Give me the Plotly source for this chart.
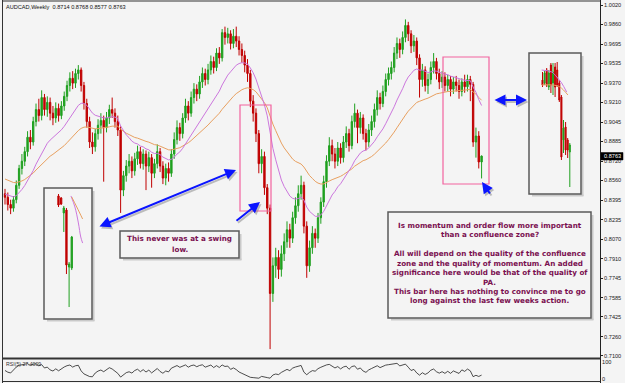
import plotly.graph_objects as go

W, H = 625, 383

# ---------------- data ----------------
header_text = "AUDCAD,Weekly  0.8714 0.8768 0.8577 0.8763"
rsi_text = "RSI(5) 27.4009"
last_price_text = "0.8763"
last_price = 0.8763

first_open = 0.845
closes = [0.842, 0.836, 0.833, 0.840, 0.852, 0.866, 0.872, 0.880, 0.892, 0.888,
          0.905, 0.915, 0.910, 0.925, 0.915, 0.921, 0.912, 0.908, 0.916, 0.910,
          0.918, 0.926, 0.935, 0.941, 0.937, 0.945, 0.948, 0.935, 0.920, 0.905,
          0.888, 0.884, 0.895, 0.902, 0.906, 0.900, 0.908, 0.915, 0.912, 0.905,
          0.898, 0.848, 0.860, 0.868, 0.872, 0.864, 0.874, 0.880, 0.870, 0.878,
          0.868, 0.875, 0.862, 0.870, 0.880, 0.868, 0.858, 0.866, 0.862, 0.878,
          0.890, 0.900, 0.895, 0.908, 0.918, 0.912, 0.925, 0.932, 0.928, 0.938,
          0.945, 0.940, 0.948, 0.955, 0.950, 0.962, 0.958, 0.979, 0.975, 0.978,
          0.970, 0.976, 0.972, 0.965, 0.960, 0.952, 0.945, 0.922, 0.912, 0.895,
          0.870, 0.876, 0.850, 0.833, 0.762, 0.785, 0.792, 0.782, 0.795, 0.805,
          0.815, 0.808, 0.825, 0.835, 0.845, 0.852, 0.818, 0.785, 0.800, 0.812,
          0.808, 0.825, 0.838, 0.855, 0.872, 0.885, 0.878, 0.872, 0.883, 0.875,
          0.888, 0.895, 0.885, 0.905, 0.912, 0.900, 0.908, 0.895, 0.888, 0.898,
          0.905, 0.915, 0.925, 0.920, 0.930, 0.940, 0.945, 0.950, 0.962, 0.970,
          0.965, 0.975, 0.985, 0.978, 0.968, 0.972, 0.958, 0.940, 0.948, 0.935,
          0.940, 0.950, 0.955, 0.945, 0.938, 0.942, 0.935, 0.940, 0.932, 0.938,
          0.935, 0.930, 0.938, 0.934, 0.940, 0.936, 0.888, 0.893, 0.8714, 0.8763]
highs = [0.849, 0.846, 0.840, 0.843, 0.856, 0.869, 0.878, 0.884, 0.897, 0.898,
         0.909, 0.920, 0.924, 0.931, 0.928, 0.926, 0.925, 0.918, 0.921, 0.920,
         0.922, 0.930, 0.939, 0.946, 0.947, 0.949, 0.952, 0.950, 0.938, 0.924,
         0.909, 0.896, 0.899, 0.907, 0.912, 0.910, 0.913, 0.919, 0.925, 0.916,
         0.910, 0.901, 0.864, 0.873, 0.878, 0.876, 0.879, 0.885, 0.884, 0.882,
         0.881, 0.880, 0.878, 0.874, 0.886, 0.883, 0.872, 0.870, 0.871, 0.882,
         0.896, 0.906, 0.904, 0.912, 0.924, 0.922, 0.930, 0.937, 0.936, 0.943,
         0.950, 0.949, 0.953, 0.960, 0.959, 0.966, 0.967, 0.982, 0.984, 0.983,
         0.981, 0.982, 0.984, 0.976, 0.970, 0.964, 0.957, 0.948, 0.927, 0.916,
         0.898, 0.882, 0.880, 0.853, 0.836, 0.792, 0.800, 0.798, 0.802, 0.812,
         0.822, 0.820, 0.830, 0.842, 0.852, 0.860, 0.855, 0.822, 0.806, 0.818,
         0.816, 0.829, 0.842, 0.860, 0.877, 0.892, 0.890, 0.883, 0.888, 0.887,
         0.893, 0.901, 0.899, 0.910, 0.920, 0.915, 0.913, 0.911, 0.899, 0.903,
         0.910, 0.920, 0.931, 0.929, 0.935, 0.945, 0.950, 0.955, 0.967, 0.975,
         0.974, 0.980, 0.990, 0.988, 0.981, 0.977, 0.975, 0.961, 0.953, 0.951,
         0.945, 0.955, 0.962, 0.958, 0.949, 0.947, 0.946, 0.944, 0.943, 0.942,
         0.943, 0.940, 0.941, 0.944, 0.944, 0.943, 0.938, 0.900, 0.897, 0.8768]
lows = [0.836, 0.831, 0.828, 0.830, 0.837, 0.849, 0.861, 0.868, 0.876, 0.882,
        0.885, 0.901, 0.905, 0.906, 0.910, 0.909, 0.906, 0.902, 0.904, 0.905,
        0.907, 0.914, 0.922, 0.930, 0.932, 0.933, 0.940, 0.930, 0.915, 0.900,
        0.883, 0.878, 0.880, 0.890, 0.895, 0.855, 0.896, 0.903, 0.908, 0.900,
        0.893, 0.829, 0.843, 0.855, 0.862, 0.858, 0.860, 0.869, 0.866, 0.865,
        0.848, 0.863, 0.850, 0.858, 0.866, 0.863, 0.853, 0.852, 0.855, 0.859,
        0.874, 0.886, 0.889, 0.891, 0.904, 0.906, 0.909, 0.920, 0.922, 0.924,
        0.933, 0.935, 0.936, 0.944, 0.945, 0.947, 0.953, 0.955, 0.969, 0.970,
        0.965, 0.966, 0.967, 0.960, 0.954, 0.946, 0.938, 0.917, 0.905, 0.888,
        0.862, 0.862, 0.844, 0.828, 0.7157, 0.755, 0.775, 0.774, 0.776, 0.789,
        0.800, 0.800, 0.804, 0.820, 0.830, 0.840, 0.812, 0.775, 0.780, 0.795,
        0.800, 0.804, 0.820, 0.834, 0.850, 0.868, 0.872, 0.866, 0.868, 0.870,
        0.871, 0.883, 0.880, 0.882, 0.900, 0.887, 0.895, 0.890, 0.881, 0.884,
        0.893, 0.900, 0.910, 0.915, 0.917, 0.926, 0.935, 0.940, 0.946, 0.957,
        0.958, 0.961, 0.971, 0.972, 0.962, 0.963, 0.952, 0.925, 0.934, 0.930,
        0.928, 0.936, 0.945, 0.940, 0.932, 0.933, 0.930, 0.930, 0.926, 0.928,
        0.930, 0.924, 0.926, 0.929, 0.930, 0.922, 0.884, 0.875, 0.866, 0.8577]
opens = [first_open] + closes[:-1]
bars = list(range(len(closes)))

fast_period, fast_seed = 18, 0.845
slow_period, slow_seed = 40, 0.858
rsi_period, rsi_seed_gain, rsi_seed_loss = 4, 0.005, 0.005

price_ticks = [1.0020, 0.9860, 0.9695, 0.9535, 0.9370, 0.9210, 0.9045, 0.8885,
               0.8720, 0.8560, 0.8395, 0.8235, 0.8070, 0.7910, 0.7745, 0.7585,
               0.7425, 0.7260, 0.7100]

# inset 1 (left) mini chart
in1_open = [0.8968, 0.8947, 0.8793, 0.8823, 0.8236, 0.8226]
in1_high = [0.8988, 0.8957, 0.8865, 0.8844, 0.8288, 0.8556]
in1_low = [0.8854, 0.8875, 0.8597, 0.8164, 0.7824, 0.8205]
in1_close = [0.8875, 0.8885, 0.8844, 0.8257, 0.8267, 0.8545]
in1_fast_x = [4.7, 6.2, 7.5, 8.4, 9.1]
in1_fast_y = [0.8968, 0.8854, 0.8690, 0.8545, 0.8483]
in1_slow_x = [5.0, 6.9, 9.1]
in1_slow_y = [0.8957, 0.8854, 0.8731]

# inset 2 (right) mini chart
in2_open = [0.9365, 0.9350, 0.9415, 0.9330, 0.9440, 0.9350, 0.9430, 0.9415, 0.9350, 0.9280, 0.9065, 0.9130, 0.9065, 0.9005]
in2_high = [0.9405, 0.9410, 0.9425, 0.9415, 0.9450, 0.9450, 0.9450, 0.9455, 0.9365, 0.9290, 0.9165, 0.9155, 0.9075, 0.9050]
in2_low = [0.9330, 0.9340, 0.9330, 0.9315, 0.9300, 0.9290, 0.9280, 0.9330, 0.9255, 0.8965, 0.9000, 0.8990, 0.8975, 0.8830]
in2_close = [0.9340, 0.9400, 0.9340, 0.9400, 0.9340, 0.9405, 0.9330, 0.9340, 0.9265, 0.8980, 0.9125, 0.9015, 0.9015, 0.9040]
in2_fast_x = [-0.4, 4.4, 6.8, 9.1, 11.5]
in2_fast_y = [0.9415, 0.9405, 0.9380, 0.9350, 0.9305]
in2_slow_x = [-0.4, 5.0, 8.3, 12.1]
in2_slow_y = [0.9340, 0.9340, 0.9330, 0.9290]

note1_lines = ["This never was at a swing", "low."]
note2_lines = ["Is momentum and order flow more important",
               "than a confluence zone?",
               "All will depend on the quality of the confluence",
               "zone and the quality of momentum. An added",
               "significance here would be that of the quality of",
               "PA.",
               "This bar here has nothing to convince me to go",
               "long against the last few weeks action."]

# ---------------- indicators ----------------
def ema(vals, period, seed):
    k = 2.0 / (period + 1)
    e, out = seed, []
    for v in vals:
        e = e + k * (v - e)
        out.append(e)
    return out

def rsi(vals, n, g0, l0):
    ag, al, out = g0, l0, []
    prev = vals[0]
    for v in vals:
        d = v - prev
        prev = v
        ag = (ag * (n - 1) + max(d, 0)) / n
        al = (al * (n - 1) + max(-d, 0)) / n
        out.append(100 - 100 / (1 + ag / al) if al > 0 else 100)
    return out

fast_ma = ema(closes, fast_period, fast_seed)
slow_ma = ema(closes, slow_period, slow_seed)
rsi_vals = rsi(closes, rsi_period, rsi_seed_gain, rsi_seed_loss)

# ---------------- style ----------------
BG = "#f4f4f4"
UP = "#1fa01f"
DN = "#c00000"
FAST = "#cc77dd"
SLOW = "#e8a060"
NOTE = "#7a1050"
BLUE = "#0a14ff"

def px(x):
    return x / W

def py(y):
    return 1 - y / H

bar0_px, bar_step = 5.0, 2.82
main_left, main_right, main_top, main_bottom = 3, 600, 3, 358
p_top_px, p_top, p_per_px = 5, 1.0020, 0.000832

def price_at(ypix):
    return p_top - (ypix - p_top_px) * p_per_px

fig = go.Figure()

def candles(o, h, l, c, xs, xa, ya):
    return go.Candlestick(x=xs, open=o, high=h, low=l, close=c, xaxis=xa, yaxis=ya,
                          increasing=dict(line=dict(color=UP, width=1), fillcolor=UP),
                          decreasing=dict(line=dict(color=DN, width=1), fillcolor=DN),
                          whiskerwidth=0, showlegend=False, hoverinfo="skip")

fig.add_trace(go.Scatter(x=bars, y=slow_ma, mode="lines", line=dict(color=SLOW, width=1),
                         showlegend=False, hoverinfo="skip"))
fig.add_trace(go.Scatter(x=bars, y=fast_ma, mode="lines", line=dict(color=FAST, width=1),
                         showlegend=False, hoverinfo="skip"))
fig.add_trace(candles(opens, highs, lows, closes, bars, "x", "y"))
fig.add_trace(go.Scatter(x=bars, y=rsi_vals, mode="lines", line=dict(color="#222", width=0.8),
                         xaxis="x", yaxis="y4", showlegend=False, hoverinfo="skip"))

fig.add_trace(candles(in1_open, in1_high, in1_low, in1_close, list(range(len(in1_open))), "x2", "y2"))
fig.add_trace(go.Scatter(x=in1_fast_x, y=in1_fast_y, mode="lines", line=dict(color=FAST, width=1, shape="spline"),
                         xaxis="x2", yaxis="y2", showlegend=False, hoverinfo="skip"))
fig.add_trace(go.Scatter(x=in1_slow_x, y=in1_slow_y, mode="lines", line=dict(color=SLOW, width=1, shape="spline"),
                         xaxis="x2", yaxis="y2", showlegend=False, hoverinfo="skip"))

fig.add_trace(candles(in2_open, in2_high, in2_low, in2_close, list(range(len(in2_open))), "x3", "y3"))
fig.add_trace(go.Scatter(x=in2_fast_x, y=in2_fast_y, mode="lines", line=dict(color=FAST, width=1, shape="spline"),
                         xaxis="x3", yaxis="y3", showlegend=False, hoverinfo="skip"))
fig.add_trace(go.Scatter(x=in2_slow_x, y=in2_slow_y, mode="lines", line=dict(color=SLOW, width=1, shape="spline"),
                         xaxis="x3", yaxis="y3", showlegend=False, hoverinfo="skip"))

hidden = dict(showgrid=False, zeroline=False, showticklabels=False, ticks="",
              showline=False, rangeslider=dict(visible=False), fixedrange=True)

x_range = [(main_left - bar0_px) / bar_step, (main_right - bar0_px) / bar_step]
tickfont = dict(family="Liberation Sans", size=5.6, color="#222")

fig.update_layout(
    width=W, height=H, margin=dict(l=0, r=0, t=0, b=0),
    paper_bgcolor=BG, plot_bgcolor=BG, showlegend=False,
    xaxis=dict(domain=[px(main_left), px(main_right)], range=x_range, anchor="y", **hidden),
    yaxis=dict(domain=[py(main_bottom), py(main_top)], range=[price_at(main_bottom), price_at(main_top)],
               side="right", anchor="x", tickvals=price_ticks, ticktext=[f"{v:.4f}" for v in price_ticks],
               ticks="outside", ticklen=2, tickcolor="#222", tickfont=tickfont,
               showgrid=False, zeroline=False, showline=False, automargin=False, fixedrange=True),
    yaxis4=dict(domain=[py(381), py(359.5)], range=[-15, 118], side="right", anchor="x",
                tickvals=[0, 100], ticktext=["0", "100"], ticks="outside", ticklen=0,
                tickfont=tickfont, showgrid=False, zeroline=False, showline=False,
                automargin=False, fixedrange=True),
    xaxis2=dict(domain=[px(45), px(91)], range=[(45 - 58.5) / 2.65, (91 - 58.5) / 2.65], anchor="y2", **hidden),
    yaxis2=dict(domain=[py(318), py(189)], range=[0.7711, 0.90397], anchor="x2",
                showgrid=False, zeroline=False, showticklabels=False, fixedrange=True),
    xaxis3=dict(domain=[px(530), px(580)], range=[(530 - 542.5) / 2.1, (580 - 542.5) / 2.1], anchor="y3", **hidden),
    yaxis3=dict(domain=[py(193), py(54)], range=[0.880, 0.9495], anchor="x3",
                showgrid=False, zeroline=False, showticklabels=False, fixedrange=True),
    boxgap=0.3,
)

shapes = []

def line(x0, y0, x1, y1, color, width):
    shapes.append(dict(type="line", xref="paper", yref="paper", x0=px(x0), y0=py(y0),
                       x1=px(x1), y1=py(y1), line=dict(color=color, width=width)))

def rect(x0, y0, x1, y1, color, width, fill=None, shadow=False):
    if shadow:
        line(x1 + 1.5, y0 + 3, x1 + 1.5, y1 + 2, "#c9c9c9", 2)
        line(x0 + 3, y1 + 1.5, x1 + 2.5, y1 + 1.5, "#c9c9c9", 2)
    d = dict(type="rect", xref="paper", yref="paper", x0=px(x0), y0=py(y1), x1=px(x1), y1=py(y0),
             line=dict(color=color, width=width))
    if fill:
        d["fillcolor"] = fill
    shapes.append(d)

# frame
line(2.5, 0, 2.5, 383, "#333", 1)
line(600.5, 0, 600.5, 383, "#222", 1)
line(2.5, 1, 600.5, 1, "#333", 1)
line(2.5, 358.5, 600.5, 358.5, "#333", 2)
line(2.5, 381.5, 600.5, 381.5, "#333", 1)

# pink zones
rect(240, 105, 271, 211, "#f2629e", 1.2)
rect(443, 57, 489, 184, "#f2629e", 1.2)
# insets
rect(44, 188, 92, 319, "#5a5a5a", 1.5, shadow=True)
rect(529, 53, 581, 194, "#5a5a5a", 1.5, shadow=True)
# notes
rect(120, 231, 239, 258, "#5a5a5a", 1.5, fill=BG, shadow=True)
rect(388, 212, 591, 318, "#5a5a5a", 1.5, fill=BG, shadow=True)
# last price box
rect(601, 152.5, 623, 160, "#000", 0.5, fill="#000")

fig.update_layout(shapes=shapes)

ann = []

def text(x, y, s, size, color, anchor="center", bold=False, family="DejaVu Sans"):
    ann.append(dict(xref="paper", yref="paper", x=px(x), y=py(y), text=(f"<b>{s}</b>" if bold else s),
                    showarrow=False, xanchor=anchor, yanchor="middle",
                    font=dict(family=family, size=size, color=color)))

def arrow(hx, hy, tx, ty, both=False):
    for dx, dy, col in [(1.5, 2, "rgba(120,120,120,0.45)"), (0, 0, BLUE)]:
        ann.append(dict(xref="paper", yref="paper", x=px(hx + dx), y=py(hy + dy), ax=tx - hx, ay=ty - hy,
                        text="", showarrow=True, arrowhead=2, arrowsize=1.1, arrowwidth=2,
                        arrowcolor=col, arrowside="end+start" if both else "end", startarrowhead=2,
                        startarrowsize=1.1))

arrow(236, 170, 98, 227, both=True)
arrow(260, 202, 235, 222)
arrow(527, 100, 493, 100, both=True)
arrow(482, 182, 491, 195)

text(4, 6.5, header_text, 5.6, "#111", anchor="left", family="Liberation Sans")
text(4, 364, rsi_text, 5.2, "#333", anchor="left", family="Liberation Sans")
text(612, 156.3, last_price_text, 5.6, "#fff", family="Liberation Sans")

for s, yy in zip(note1_lines, [238.5, 249]):
    text(179.5, yy, s, 7.2, NOTE, bold=True)
for s, yy in zip(note2_lines, [225, 234, 253.5, 263, 272.5, 282, 291, 300.5]):
    text(489.5, yy, s, 7.2, NOTE, bold=True)

fig.update_layout(annotations=ann)

fig.write_html("out.html")
